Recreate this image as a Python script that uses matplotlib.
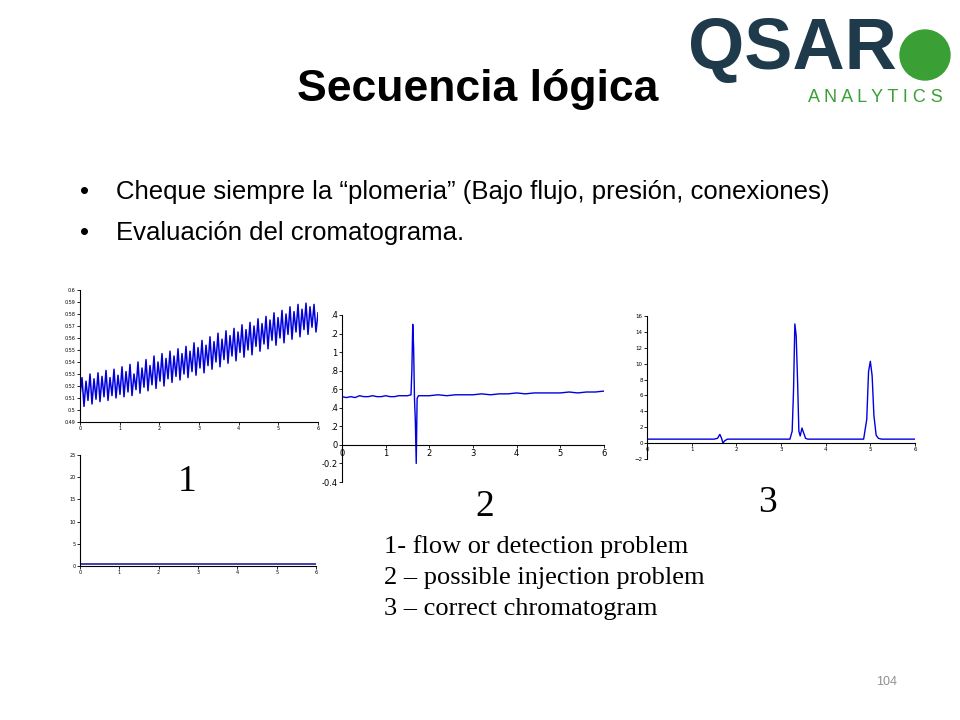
import matplotlib
matplotlib.use("Agg")
import matplotlib.pyplot as plt
import numpy as np

# ---------------- data ----------------
y1_top = [0.512,0.527,0.503,0.524,0.508,0.530,0.505,0.526,0.509,0.531,0.507,0.528,0.511,0.533,0.508,0.527,0.512,0.534,0.510,0.529,
0.513,0.536,0.511,0.532,0.515,0.538,0.512,0.530,0.517,0.540,0.514,0.535,0.519,0.542,0.516,0.537,0.521,0.545,0.518,0.540,
0.524,0.547,0.520,0.543,0.526,0.549,0.523,0.545,0.528,0.551,0.525,0.547,0.530,0.553,0.527,0.549,0.532,0.556,0.529,0.552,
0.535,0.558,0.531,0.554,0.537,0.561,0.534,0.557,0.540,0.564,0.536,0.559,0.542,0.566,0.539,0.562,0.545,0.568,0.541,0.565,
0.548,0.571,0.544,0.567,0.550,0.573,0.546,0.570,0.553,0.576,0.549,0.572,0.555,0.578,0.551,0.575,0.558,0.581,0.554,0.577,
0.560,0.583,0.556,0.580,0.563,0.586,0.559,0.582,0.565,0.588,0.561,0.584,0.567,0.589,0.563,0.586,0.569,0.588,0.565,0.581]
x1_bot = [0, 6]
y1_bot = [0.5, 0.5]

x2 = [0,0.1,0.2,0.3,0.4,0.5,0.6,0.7,0.8,0.9,1.0,1.1,1.2,1.3,1.4,1.5,1.58,1.6,1.62,1.64,1.66,1.68,1.70,1.72,1.75,
      1.9,2.0,2.2,2.4,2.6,2.8,3.0,3.2,3.4,3.6,3.8,4.0,4.2,4.4,4.6,4.8,5.0,5.2,5.4,5.6,5.8,6.0]
y2 = [0.52,0.51,0.52,0.51,0.53,0.52,0.52,0.53,0.52,0.52,0.53,0.52,0.52,0.53,0.53,0.53,0.54,0.80,1.30,1.05,0.50,0.25,-0.20,0.50,0.53,
      0.53,0.53,0.54,0.53,0.54,0.54,0.54,0.55,0.54,0.55,0.55,0.56,0.55,0.56,0.56,0.56,0.56,0.57,0.56,0.57,0.57,0.58]
y2_ticks = [-0.4,-0.2,0,0.2,0.4,0.6,0.8,1.0,1.2,1.4]
y2_labels = ["-0.4","-0.2","0",".2",".4",".6",".8","1",".2",".4"]

x3 = [0,1.0,1.5,1.58,1.63,1.67,1.70,1.74,1.8,2.5,3.0,3.2,3.25,3.28,3.31,3.34,3.37,3.40,3.43,3.47,3.50,3.55,3.6,
      4.5,4.85,4.92,4.96,5.0,5.04,5.08,5.13,5.18,5.25,6.0]
y3 = [0.5,0.5,0.5,0.6,1.1,0.6,0.0,0.3,0.5,0.5,0.5,0.5,1.5,6.5,15.0,13.5,8.0,1.5,0.9,1.9,1.4,0.6,0.5,
      0.5,0.5,3.0,9.0,10.3,8.5,3.5,1.0,0.6,0.5,0.5]

blue = "#0000e0"
fig = plt.figure(figsize=(9.6, 7.2), dpi=100)
W, H = 960, 720
def ax_at(x0, y0, x1, y1):
    return fig.add_axes([x0/W, 1-y1/H, (x1-x0)/W, (y1-y0)/H])

def style(ax, fs=3.5):
    for s in ["top", "right"]:
        ax.spines[s].set_visible(False)
    ax.tick_params(labelsize=fs, length=2, width=0.6, pad=1)
    for s in ["left", "bottom"]:
        ax.spines[s].set_linewidth(0.8)

# chart 1 top
a = ax_at(80, 290, 318, 422)
a.plot(np.linspace(0, 6, len(y1_top)), y1_top, color=blue, lw=1.1)
a.set_xlim(0, 6); a.set_ylim(0.49, 0.6)
a.set_yticks(np.round(np.arange(0.49, 0.601, 0.01), 2))
a.set_yticklabels(["0.49","0.5","0.51","0.52","0.53","0.54","0.55","0.56","0.57","0.58","0.59","0.6"])
a.set_xticks(range(7)); style(a)

# chart 1 bottom
b = ax_at(80, 455, 316, 566)
b.plot(x1_bot, y1_bot, color="#2020a0", lw=1.2)
b.set_xlim(0, 6); b.set_ylim(0, 25)
b.set_yticks([0,5,10,15,20,25]); b.set_xticks(range(7)); style(b)

# chart 2
c = ax_at(342, 315, 604, 482)
c.plot(x2, y2, color=blue, lw=1.0)
c.set_xlim(0, 6); c.set_ylim(-0.4, 1.4)
c.spines["bottom"].set_position(("data", 0))
c.set_yticks(y2_ticks); c.set_yticklabels(y2_labels)
c.set_xticks(range(7)); style(c, fs=6)

# chart 3
d = ax_at(647, 316, 915, 459)
d.plot(x3, y3, color=blue, lw=1.0)
d.set_xlim(0, 6); d.set_ylim(-2, 16)
d.spines["bottom"].set_position(("data", 0))
d.set_yticks(range(-2, 17, 2)); d.set_xticks(range(7)); style(d, fs=4)

# slide text
fig.text(478/W, 1-90/H, "Secuencia lógica", ha="center", va="center", fontsize=32, weight="bold", family="Liberation Sans")
fs_b = 18.5
fig.text(80/W, 1-192/H, "•", fontsize=fs_b, va="center", family="Liberation Sans")
fig.text(116/W, 1-192/H, "Cheque siempre la \u201cplomeria\u201d (Bajo flujo, presión, conexiones)", fontsize=fs_b, va="center", family="Liberation Sans")
fig.text(80/W, 1-233/H, "•", fontsize=fs_b, va="center", family="Liberation Sans")
fig.text(116/W, 1-233/H, "Evaluación del cromatograma.", fontsize=fs_b, va="center", family="Liberation Sans")
for s, x, y in [("1", 187, 482), ("2", 485, 507), ("3", 767, 503)]:
    fig.text(x/W, 1-y/H, s, fontsize=27, ha="center", va="center", family="Liberation Serif")
for i, s in enumerate(["1- flow or detection problem", "2 \u2013 possible injection problem", "3 \u2013 correct chromatogram"]):
    fig.text(384/W, 1-(547+31*i)/H, s, fontsize=19, va="center", family="Liberation Serif")
fig.text(887/W, 1-682/H, "104", fontsize=9, color="#909090", ha="center", va="center", family="Liberation Sans")

# logo
fig.text(688/W, 1-50/H, "QSAR", fontsize=52, weight="bold", color="#1f3a4a", va="center", family="Liberation Sans")
fig.text(808/W, 1-97/H, "A N A L Y T I C S", fontsize=13, color="#3aa035", va="center", family="Liberation Sans")
fig.patches.append(matplotlib.patches.Ellipse((925/W, 1-55/H), 50/W, 50/H, transform=fig.transFigure, color="#3aa035"))

fig.savefig("out.png", dpi=100)
